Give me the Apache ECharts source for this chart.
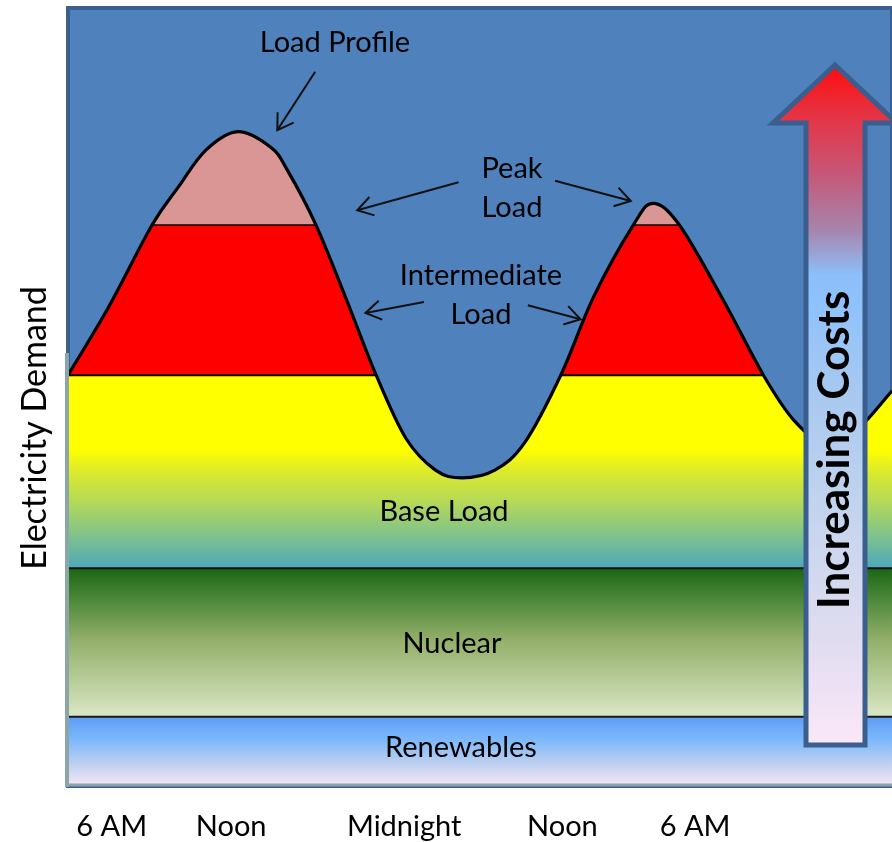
<!DOCTYPE html>
<html>
<head>
<meta charset="utf-8">
<script src="https://cdn.jsdelivr.net/npm/echarts@6/dist/echarts.min.js"></script>
<style>
  html, body { margin: 0; padding: 0; background: #ffffff; }
  #chart { width: 892px; height: 842px; }
</style>
</head>
<body>
<div id="chart"></div>
<script>
// Daily load profile over roughly a day and a half (time on a 0–100 scale,
// demand on a 0–100 scale).
const loadX = [0, 5.0, 10.2, 13.4, 16.7, 20.6, 24.6, 26.6, 30.1, 33.8, 37.4, 41.0, 44.6, 47.8,
               51.8, 55.4, 59.8, 63.8, 68.6, 71.0, 74.2, 79.4, 84.4, 88.1, 92.1, 95.8, 100];
const loadY = [52.8, 61.7, 72.1, 77.0, 81.7, 84.1, 82.1, 79.2, 72.1, 62.5, 52.8, 44.7, 40.6, 39.6,
               40.6, 44.1, 52.8, 62.9, 72.1, 74.9, 72.1, 62.7, 52.8, 47.0, 43.8, 45.8, 50.8];

// Time-of-day labels along the bottom
const tickPositions = [5.3, 19.8, 40.8, 60.0, 76.1];
const tickLabels = ['6 AM', 'Noon', 'Midnight', 'Noon', '6 AM'];

// Upper edge of each generation tier
const renewablesTop = 8.9;
const nuclearTop = 28.0;
const baseTop = 52.8;
const intermediateTop = 72.1;

// Stretches of time where demand rises above the base / intermediate tiers
const intermediateSpans = [[0, 37.4], [59.8, 84.4]];
const peakSpans = [[10.2, 30.1], [68.6, 74.2]];

// Callout pointers: [from, to] in (time, demand)
const callouts = [
  [[30.0, 91.8], [25.4, 84.3]],
  [[47.4, 77.6], [35.1, 74.0]],
  [[59.1, 77.8], [68.3, 75.2]],
  [[43.2, 62.2], [36.1, 60.8]],
  [[55.8, 61.8], [62.2, 60.0]]
];

const FONT = 'Lato';
const chart = echarts.init(document.getElementById('chart'));

const baseOption = {
  animation: false,
  grid: {
    left: 68, top: 8, width: 834, bottom: 56, containLabel: false,
    show: true, backgroundColor: '#4F81BD', borderColor: '#3B5F8F', borderWidth: 4
  },
  xAxis: {
    type: 'value', min: 0, max: 100,
    axisLine: { show: false }, axisTick: { show: false }, splitLine: { show: false },
    axisLabel: {
      customValues: tickPositions,
      formatter: v => { const i = tickPositions.indexOf(v); return i >= 0 ? tickLabels[i] : ''; },
      fontFamily: FONT, fontSize: 29, color: '#000', margin: 41, verticalAlign: 'middle'
    }
  },
  yAxis: {
    type: 'value', min: 0, max: 100,
    axisLine: { show: false }, axisTick: { show: false }, splitLine: { show: false },
    axisLabel: { show: false }
  },
  series: []
};
chart.setOption(baseOption);

const toPx = (x, y) => chart.convertToPixel({ gridIndex: 0 }, [x, y]);
const yTopPx = toPx(0, 100)[1];
const yBotPx = toPx(0, 0)[1];

// Vertical gradient fixed to the demand scale
function demandGradient(stops) {
  return new echarts.graphic.LinearGradient(0, yTopPx, 0, yBotPx,
    stops.map(([v, c]) => ({ offset: (toPx(0, v)[1] - yTopPx) / (yBotPx - yTopPx), color: c })), true);
}

const loadFill = demandGradient([
  [100, '#D99694'], [intermediateTop, '#D99694'],
  [intermediateTop, '#FF0000'], [baseTop, '#FF0000'],
  [baseTop, '#FFFF00'], [43.2, '#FFFF00'], [40.6, '#DDEB2A'], [36.8, '#B8DA55'],
  [34.2, '#98CD74'], [31.6, '#78BF93'], [28.1, '#4EA8B8'], [0, '#4EA8B8']
]);
const nuclearFill = demandGradient([
  [nuclearTop, '#1A6614'], [23.9, '#4D893A'], [18.8, '#93AF6A'], [13.6, '#B7CC98'],
  [renewablesTop, '#DBE7C7'], [0, '#DBE7C7']
]);
const renewablesFill = demandGradient([
  [renewablesTop, '#5E9CF6'], [5.9, '#7DB9FB'], [3.3, '#B5CCF0'], [0.5, '#ECE3F3'], [0, '#ECE3F3']
]);

const loadData = loadX.map((x, i) => [x, loadY[i]]);

// Smooth Catmull-Rom path through the projected load points
function loadPath(api, closeToBottom) {
  const pts = loadData.map(p => api.coord(p));
  const n = pts.length;
  let d = 'M' + pts[0][0] + ',' + pts[0][1];
  for (let i = 0; i < n - 1; i++) {
    const p0 = pts[Math.max(i - 1, 0)], p1 = pts[i], p2 = pts[i + 1], p3 = pts[Math.min(i + 2, n - 1)];
    const c1 = [p1[0] + (p2[0] - p0[0]) / 6, p1[1] + (p2[1] - p0[1]) / 6];
    const c2 = [p2[0] - (p3[0] - p1[0]) / 6, p2[1] - (p3[1] - p1[1]) / 6];
    d += 'C' + c1[0] + ',' + c1[1] + ',' + c2[0] + ',' + c2[1] + ',' + p2[0] + ',' + p2[1];
  }
  if (closeToBottom) {
    const b = api.coord([0, 0])[1];
    d += 'L' + pts[n - 1][0] + ',' + b + 'L' + pts[0][0] + ',' + b + 'Z';
  }
  return d;
}

const series = [
  {
    type: 'custom', name: 'Load', data: loadData, silent: true, z: 2,
    renderItem: (params, api) => params.dataIndex !== 0 ? null : {
      type: 'path', shape: { pathData: loadPath(api, true) },
      style: { fill: loadFill, stroke: null }
    }
  },
  {
    type: 'line', name: 'Nuclear', data: [[0, nuclearTop], [100, nuclearTop]], showSymbol: false, silent: true,
    lineStyle: { color: '#111', width: 2 }, areaStyle: { color: nuclearFill, opacity: 1 }, z: 3
  },
  {
    type: 'line', name: 'Renewables', data: [[0, renewablesTop], [100, renewablesTop]], showSymbol: false, silent: true,
    lineStyle: { color: '#1a1a1a', width: 2 }, areaStyle: { color: renewablesFill, opacity: 1 }, z: 4
  }
];
intermediateSpans.forEach(([a, b]) => series.push({
  type: 'line', data: [[a, baseTop], [b, baseTop]], showSymbol: false, silent: true,
  lineStyle: { color: '#000', width: 2 }, z: 5
}));
peakSpans.forEach(([a, b]) => series.push({
  type: 'line', data: [[a, intermediateTop], [b, intermediateTop]], showSymbol: false, silent: true,
  lineStyle: { color: '#000', width: 1.6 }, z: 5
}));
series.push({
  type: 'custom', name: 'Load profile', data: loadData, silent: true, z: 6,
  renderItem: (params, api) => params.dataIndex !== 0 ? null : {
    type: 'path', shape: { pathData: loadPath(api, false) },
    style: { fill: null, stroke: '#000', lineWidth: 3.2, lineJoin: 'round' }
  }
});

// Callout pointers with open arrowheads
const graphics = [];
const armLen = 18, armAng = 32 * Math.PI / 180;
callouts.forEach(([from, to]) => {
  const p0 = toPx(from[0], from[1]);
  const p1 = toPx(to[0], to[1]);
  const dx = p1[0] - p0[0], dy = p1[1] - p0[1];
  const len = Math.hypot(dx, dy);
  const ux = dx / len, uy = dy / len;
  const arm = s => {
    const c = Math.cos(s * armAng), sn = Math.sin(s * armAng);
    const rx = ux * c - uy * sn, ry = ux * sn + uy * c;
    return [p1[0] - rx * armLen, p1[1] - ry * armLen];
  };
  graphics.push({ type: 'line', z: 50, shape: { x1: p0[0], y1: p0[1], x2: p1[0], y2: p1[1] },
                  style: { stroke: '#111', lineWidth: 2 } });
  graphics.push({ type: 'polyline', z: 50, shape: { points: [arm(1), p1, arm(-1)] },
                  style: { stroke: '#111', lineWidth: 2, fill: null } });
});

// Axis frame lines
graphics.push({ type: 'line', z: 40, shape: { x1: 67, y1: 353, x2: 67, y2: 787 },
                style: { stroke: '#8CA6A8', lineWidth: 4 } });
graphics.push({ type: 'line', z: 40, shape: { x1: 65, y1: 785, x2: 892, y2: 785 },
                style: { stroke: '#8CA6A8', lineWidth: 3 } });

// "Increasing Costs" arrow
graphics.push({
  type: 'polygon', z: 60,
  shape: { points: [[835, 65], [897, 123], [865, 123], [865, 745], [806, 745], [806, 123], [773, 123]] },
  style: {
    fill: new echarts.graphic.LinearGradient(0, 0, 0, 1, [
      { offset: 0, color: '#FF0A0A' }, { offset: 0.07, color: '#E8303F' },
      { offset: 0.16, color: '#C75676' }, { offset: 0.245, color: '#A685AD' },
      { offset: 0.31, color: '#8DBFFA' }, { offset: 0.35, color: '#8EC2FB' },
      { offset: 0.49, color: '#A9C9F0' }, { offset: 0.67, color: '#C6D5EE' },
      { offset: 0.84, color: '#E0DCF0' }, { offset: 1, color: '#FCE8F8' }
    ]),
    stroke: '#3A5F8E', lineWidth: 5, lineJoin: 'miter'
  }
});

function label(text, x, y, size, extra) {
  return Object.assign({
    type: 'text', x, y, z: 70,
    style: { text, fill: '#000', font: size + 'px ' + FONT, align: 'center', verticalAlign: 'middle', lineHeight: 39 }
  }, extra || {});
}
graphics.push(label('Load Profile', 335, 43, 29));
graphics.push(label('Peak\nLoad', 512, 188, 29));
graphics.push(label('Intermediate\nLoad', 481, 295, 29));
graphics.push(label('Base Load', 444, 512, 29));
graphics.push(label('Nuclear', 452, 644, 29));
graphics.push(label('Renewables', 461, 748, 29));
graphics.push(label('Electricity Demand', 35, 428, 34, { rotation: Math.PI / 2 }));
graphics.push({
  type: 'text', x: 835, y: 450, z: 70, rotation: Math.PI / 2,
  style: { text: 'Increasing Costs', fill: '#000', font: 'bold 44px ' + FONT, align: 'center', verticalAlign: 'middle' }
});

chart.setOption({ series, graphic: graphics });
</script>
</body>
</html>
